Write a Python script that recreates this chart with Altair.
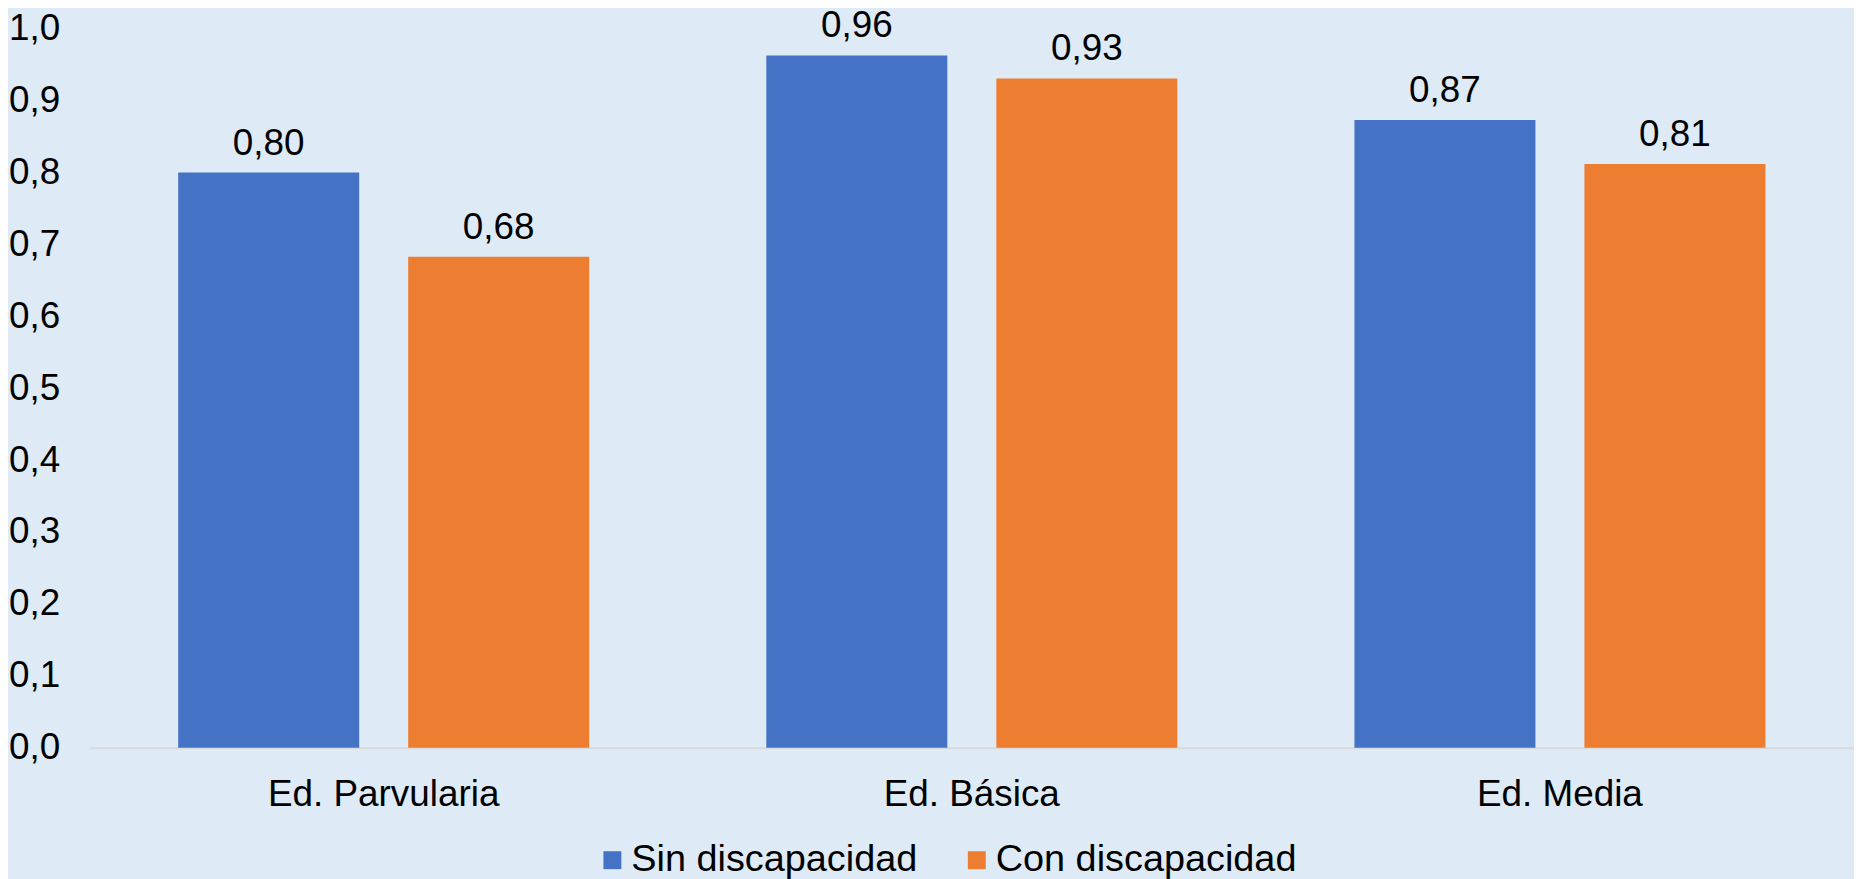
import altair as alt
import pandas as pd

categories = ["Ed. Parvularia", "Ed. Básica", "Ed. Media"]
series = ["Sin discapacidad", "Con discapacidad"]
sin_values = [0.800, 0.963, 0.873]
con_values = [0.683, 0.931, 0.812]
y_ticks = [0.0, 0.1, 0.2, 0.3, 0.4, 0.5, 0.6, 0.7, 0.8, 0.9, 1.0]
colors = ["#4472C4", "#ED7D31"]

rows = []
for cat, sv, cv in zip(categories, sin_values, con_values):
    rows.append({"category": cat, "series": series[0], "value": sv})
    rows.append({"category": cat, "series": series[1], "value": cv})
df = pd.DataFrame(rows)

FONT = "Liberation Sans"
FS = 37
BG = "#DEEBF7"

base = alt.Chart(df).transform_calculate(
    label="replace(format(datum.value, '.2f'), '.', ',')"
).encode(
    x=alt.X(
        "category:N",
        sort=categories,
        scale=alt.Scale(paddingInner=0, paddingOuter=0),
        axis=alt.Axis(
            title=None, labelAngle=0, ticks=False, tickSize=0,
            domainColor="#D9D9D9", domainWidth=2,
            labelFont=FONT, labelFontSize=FS, labelColor="black",
            labelBaseline="alphabetic", labelPadding=58, labelLimit=0,
        ),
    ),
    xOffset=alt.XOffset(
        "series:N", sort=series,
        scale=alt.Scale(paddingInner=0.213, paddingOuter=0.385),
    ),
    y=alt.Y(
        "value:Q",
        scale=alt.Scale(domain=[0, 1], nice=False),
        axis=alt.Axis(
            title=None, values=y_ticks, domain=False, ticks=False, tickSize=0,
            grid=False, labelFont=FONT, labelFontSize=FS, labelColor="black",
            labelPadding=30,
            labelExpr="replace(format(datum.value, '.1f'), '.', ',')",
        ),
    ),
)

bars = base.mark_bar().encode(
    color=alt.Color(
        "series:N", sort=series,
        scale=alt.Scale(domain=series, range=colors),
        legend=alt.Legend(
            orient="none", legendX=506, legendY=816, direction="horizontal",
            title=None, symbolType="square", symbolSize=324,
            symbolStrokeWidth=0, labelFont=FONT, labelFontSize=38,
            labelColor="black", labelOffset=0, columnPadding=40,
            padding=0, labelLimit=0,
        ),
    )
)

text = base.mark_text(
    baseline="alphabetic", dy=-18, fontSize=FS, font=FONT, color="black"
).encode(text="label:N")

chart = (bars + text).properties(
    width=1772,
    height=722,
    background=BG,
    padding={"left": 82, "top": 19, "right": 0, "bottom": 130},
    autosize=alt.AutoSizeParams(type="none"),
).configure_view(stroke=None)

chart.save("out.html", embed_options={"renderer": "svg", "actions": False})
